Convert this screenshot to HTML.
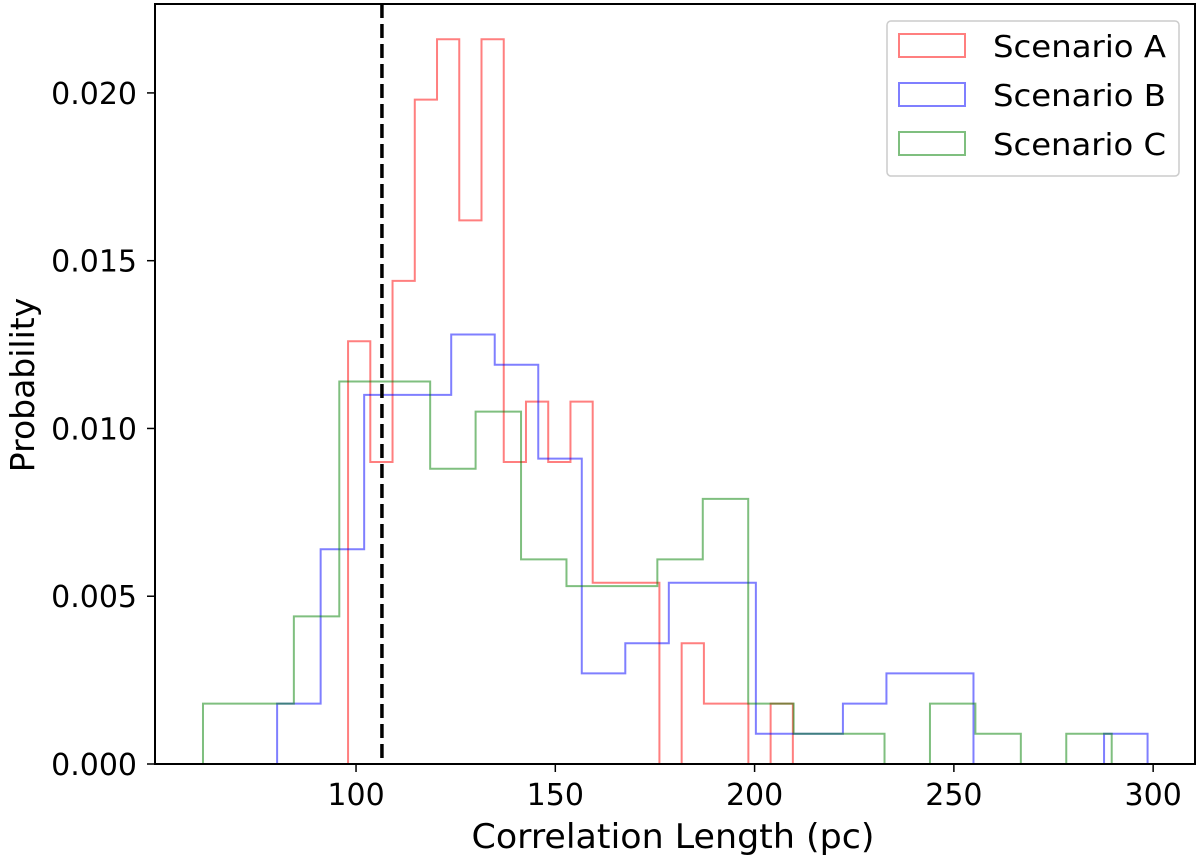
<!DOCTYPE html>
<html><head><meta charset="utf-8"><style>
html,body{margin:0;padding:0;background:#fff;}
svg{display:block;font-family:"DejaVu Sans","Liberation Sans",sans-serif;}
</style></head><body>
<svg id="chart" width="1200" height="860" viewBox="0 0 1200 860" xmlns="http://www.w3.org/2000/svg">
<rect x="0" y="0" width="1200" height="860" fill="#fff"/>
<g id="series"></g>
<g id="axes"></g>
</svg>
<script>
// Data
const xTicks = [100, 150, 200, 250, 300];
const yTicks = [0, 0.005, 0.010, 0.015, 0.020];
const yTickLabels = ["0.000", "0.005", "0.010", "0.015", "0.020"];
const seriesNames = ["Scenario A", "Scenario B", "Scenario C"];
const aStart = 98.0, aWidth = 5.58;
const aValues = [0.0126,0.0090,0.0144,0.0198,0.0216,0.0162,0.0216,0.0090,0.0108,0.0090,0.0108,0.0054,0.0054,0.0054,0,0.0036,0.0018,0.0018,0,0.0018];
const bStart = 80.2, bWidth = 10.92;
const bValues = [0.0018,0.0064,0.0110,0.0110,0.0128,0.0119,0.0091,0.0027,0.0036,0.0054,0.0054,0.0009,0.0009,0.0018,0.0027,0.0027,0,0,0,0.0009];
const cStart = 61.6, cWidth = 11.4;
const cValues = [0.0018,0.0018,0.0044,0.0114,0.0114,0.0088,0.0105,0.0061,0.0053,0.0053,0.0061,0.0079,0.0018,0.0009,0.0009,0,0.0018,0.0009,0,0.0009];
const refLine = 106.5;

const L=155, R=1195, T=4, B=764;
const xMin=49.56, xMax=310.5, yMin=0, yMax=0.02265;
const xs = v => L + (v - xMin) / (xMax - xMin) * (R - L);
const ys = v => B - (v - yMin) / (yMax - yMin) * (B - T);
const NS="http://www.w3.org/2000/svg";
function mk(tag, attrs, parent){const e=document.createElementNS(NS,tag);for(const k in attrs)e.setAttribute(k,attrs[k]);parent.appendChild(e);return e;}
const gS=document.getElementById('series'), gA=document.getElementById('axes');

function stepPath(start,width,vals){
  let d=`M${xs(start)},${ys(0)}`;
  vals.forEach((v,i)=>{const x0=xs(start+i*width),x1=xs(start+(i+1)*width);d+=` L${x0},${ys(v)} L${x1},${ys(v)}`;});
  d+=` L${xs(start+vals.length*width)},${ys(0)}`;
  return d;
}
const specs=[[aStart,aWidth,aValues,"#ff0000","scenario-a-histogram"],[bStart,bWidth,bValues,"#0000ff","scenario-b-histogram"],[cStart,cWidth,cValues,"#008000","scenario-c-histogram"]];
specs.forEach(s=>{
  const p=mk('path',{d:stepPath(s[0],s[1],s[2]),fill:'none',stroke:s[3],'stroke-opacity':0.5,'stroke-width':2},gS);
  
  
});
const rl=mk('line',{x1:xs(refLine),x2:xs(refLine),y1:T,y2:B,stroke:'#000','stroke-width':3.5,'stroke-dasharray':'14,6'},gS);



const fr=mk('rect',{x:L,y:T,width:R-L,height:B-T,fill:'none',stroke:'#000','stroke-width':2},gA);



xTicks.forEach(v=>{
  const t=mk('line',{x1:xs(v),x2:xs(v),y1:B,y2:B+8,stroke:'#000','stroke-width':1.5},gA);
  
  
  const tx=mk('text',{x:xs(v),y:805,'text-anchor':'middle','font-size':30,fill:'#000'},gA);
  tx.textContent=String(v);
  
  
});
yTicks.forEach((v,i)=>{
  const t=mk('line',{x1:L-8,x2:L,y1:ys(v),y2:ys(v),stroke:'#000','stroke-width':1.5},gA);
  
  
  const tx=mk('text',{x:137,y:ys(v)+11,'text-anchor':'end','font-size':30,fill:'#000'},gA);
  tx.textContent=yTickLabels[i];
  
  
});
const xl=mk('text',{x:673,y:848,'text-anchor':'middle','font-size':34,fill:'#000',textLength:403,lengthAdjust:'spacingAndGlyphs'},gA);
xl.textContent="Correlation Length (pc)";


const yl=mk('text',{x:0,y:0,'text-anchor':'middle','font-size':33,fill:'#000',transform:`translate(34,385) rotate(-90)`},gA);
yl.textContent="Probability";



const lg=mk('g',{},gA);


const lb=mk('rect',{x:887,y:21,width:292,height:155,rx:4,fill:'#fff','fill-opacity':0.8,stroke:'#ccc','stroke-width':1.5},lg);


const cols=["#ff0000","#0000ff","#008000"];
seriesNames.forEach((n,i)=>{
  const r=mk('rect',{x:899,y:34+i*49,width:66,height:23,fill:'none',stroke:cols[i],'stroke-opacity':0.5,'stroke-width':2},lg);
  
  
  const t=mk('text',{x:993,y:57+i*49,'font-size':30,fill:'#000',textLength:173,lengthAdjust:'spacingAndGlyphs'},lg);
  t.textContent=n;
  
  
});
</script>
</body></html>
